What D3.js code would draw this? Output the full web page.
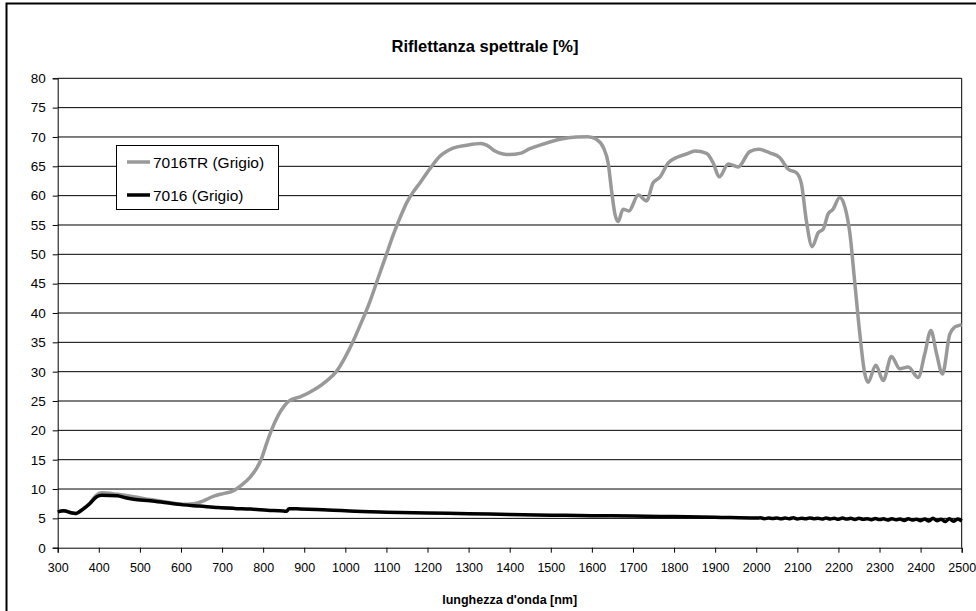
<!DOCTYPE html>
<html>
<head>
<meta charset="utf-8">
<script src="https://cdn.jsdelivr.net/npm/d3@7"></script>
<style>
  html, body { margin: 0; padding: 0; background: #fff; }
  svg { display: block; font-family: "Liberation Sans", Arial, sans-serif; }
</style>
</head>
<body>
<svg id="chart" width="976" height="611"></svg>
<script>
// ---- data ----
const xTicks = [300,400,500,600,700,800,900,1000,1100,1200,1300,1400,1500,1600,1700,1800,1900,2000,2100,2200,2300,2400,2500];
const yTicks = [0,5,10,15,20,25,30,35,40,45,50,55,60,65,70,75,80];

const seriesNames = ["7016TR (Grigio)", "7016 (Grigio)"];

const wlTR = [300,315,330,345,360,378,395,407,445,485,525,565,605,630,655,680,705,728,748,768,784,796,808,820,837,853,865,890,926,954,979,999,1019,1039,1060,1080,1100,1117,1133,1150,1165,1182,1206,1230,1262,1295,1330,1344,1364,1384,1400,1425,1449,1482,1522,1562,1590,1611,1628,1640,1648,1656,1664,1676,1690,1713,1733,1749,1765,1786,1806,1830,1851,1879,1895,1910,1932,1956,1984,2005,2033,2057,2078,2098,2110,2122,2136,2151,2163,2175,2187,2203,2216,2228,2240,2252,2264,2272,2291,2309,2329,2349,2370,2394,2410,2425,2439,2453,2471,2483,2490,2500];
const reflTR = [6.1,6.3,6.0,5.85,6.5,7.6,9.0,9.35,9.1,8.7,8.2,7.8,7.4,7.5,8.0,8.8,9.25,9.7,10.7,12.0,13.5,15.2,17.7,20.0,22.6,24.3,25.1,25.7,27.0,28.4,30.1,32.4,35.2,38.4,42.0,46.0,50.0,53.4,56.2,58.9,60.6,62.2,64.6,66.7,68.1,68.6,68.9,68.6,67.6,67.1,67.0,67.2,68.0,68.8,69.6,70.0,70.05,69.6,68.2,65.4,60.8,56.9,55.6,57.7,57.4,60.1,59.1,62.2,63.1,65.6,66.5,67.1,67.6,67.2,65.6,63.2,65.4,64.9,67.5,67.9,67.3,66.5,64.5,63.9,62.0,55.7,51.3,53.7,54.3,56.9,57.7,59.7,58.0,53.5,45.0,36.5,29.7,28.2,31.1,28.5,32.6,30.5,30.8,29.0,33.0,37.0,33.0,29.6,36.4,37.6,37.8,38.0];

const wl7016 = [300,315,330,345,360,378,395,407,445,465,485,525,565,605,645,690,730,770,810,850,857,863,870,890,930,970,1010,1100,1200,1300,1400,1500,1600,1700,1800,1900,2000,2010,2020,2030,2040,2050,2060,2070,2080,2090,2100,2110,2120,2130,2140,2150,2160,2170,2180,2190,2200,2210,2220,2230,2240,2250,2260,2270,2280,2290,2300,2310,2320,2330,2340,2350,2360,2370,2380,2390,2400,2410,2420,2430,2440,2450,2460,2470,2480,2490,2500];
const refl7016 = [6.1,6.3,6.0,5.85,6.5,7.5,8.7,8.95,8.85,8.5,8.25,8.0,7.65,7.3,7.1,6.85,6.7,6.58,6.4,6.25,6.2,6.65,6.65,6.6,6.5,6.4,6.25,6.05,5.9,5.8,5.65,5.55,5.45,5.4,5.3,5.2,5.05,5.1,4.95,5.05,4.98,5.08,4.92,5.05,4.95,5.1,4.9,5.0,4.92,5.08,4.95,5.02,4.88,5.05,4.9,5.0,4.85,5.05,4.88,5.0,4.82,5.02,4.85,4.95,4.78,4.98,4.8,4.92,4.7,4.95,4.75,4.9,4.65,4.92,4.7,4.85,4.6,4.9,4.55,5.0,4.6,4.85,4.45,4.95,4.5,4.9,4.55];

// ---- layout ----
const svg = d3.select("#chart");
const L = 57.7, R = 961.7, T = 78.3, B = 547.7;
const x = d3.scaleLinear().domain([300, 2500]).range([L, R]);
const y = d3.scaleLinear().domain([0, 80]).range([B, T]);

// outer frame (cut off at right/bottom)
svg.append("rect").attr("x", 6.5).attr("y", 3.5).attr("width", 1000).attr("height", 700)
  .attr("fill", "none").attr("stroke", "#000").attr("stroke-width", 2);

// title
svg.append("text").attr("x", 485).attr("y", 52).attr("text-anchor", "middle")
  .attr("font-weight", "bold").attr("font-size", 16.5).text("Riflettanza spettrale [%]");

// gridlines
svg.append("g").selectAll("line").data(yTicks.filter(d => d > 0)).join("line")
  .attr("x1", L).attr("x2", R).attr("y1", d => y(d)).attr("y2", d => y(d))
  .attr("stroke", "#000").attr("stroke-width", 1);

// plot border (right)
svg.append("line").attr("x1", R).attr("x2", R).attr("y1", T).attr("y2", B).attr("stroke", "#000");

// axes
const yAxis = svg.append("g").attr("transform", `translate(${L},0)`)
  .call(d3.axisLeft(y).tickValues(yTicks).tickSize(5).tickPadding(7).tickFormat(d3.format("d")));
const xAxis = svg.append("g").attr("transform", `translate(0,${B})`)
  .call(d3.axisBottom(x).tickValues(xTicks).tickSize(5).tickPadding(10).tickFormat(d3.format("d")));
[yAxis, xAxis].forEach(a => {
  a.select(".domain").attr("stroke", "#000");
  a.selectAll(".tick line").attr("stroke", "#000");
  a.selectAll("text").attr("font-family", "Liberation Sans, Arial, sans-serif").attr("fill", "#000");
});
yAxis.selectAll("text").attr("font-size", 13.5);
xAxis.selectAll("text").attr("font-size", 12.5);

// x axis title
svg.append("text").attr("x", (L + R) / 2).attr("y", 604).attr("text-anchor", "middle")
  .attr("font-weight", "bold").attr("font-size", 12.5).text("lunghezza d'onda [nm]");

// series
const line = d3.line().x(d => x(d[0])).y(d => y(d[1])).curve(d3.curveMonotoneX);
const dTR = wlTR.map((w, i) => [w, reflTR[i]]);
const d7016 = wl7016.map((w, i) => [w, refl7016[i]]);
const colors = ["#999999", "#000000"];

svg.append("path").datum(dTR).attr("d", line).attr("fill", "none")
  .attr("stroke", colors[0]).attr("stroke-width", 3.5).attr("stroke-linejoin", "round");
svg.append("path").datum(d7016).attr("d", line).attr("fill", "none")
  .attr("stroke", colors[1]).attr("stroke-width", 3.5).attr("stroke-linejoin", "round");

// legend
const lg = svg.append("g");
lg.append("rect").attr("x", 116.5).attr("y", 145.5).attr("width", 162).attr("height", 64)
  .attr("fill", "#fff").attr("stroke", "#000").attr("stroke-width", 1);
const legY = [162, 195];
seriesNames.forEach((name, i) => {
  lg.append("line").attr("x1", 127).attr("x2", 150).attr("y1", legY[i]).attr("y2", legY[i])
    .attr("stroke", colors[i]).attr("stroke-width", 3.5);
  lg.append("text").attr("x", 153).attr("y", legY[i] + 5.5).attr("font-size", 15.5).text(name);
});
</script>
</body>
</html>
